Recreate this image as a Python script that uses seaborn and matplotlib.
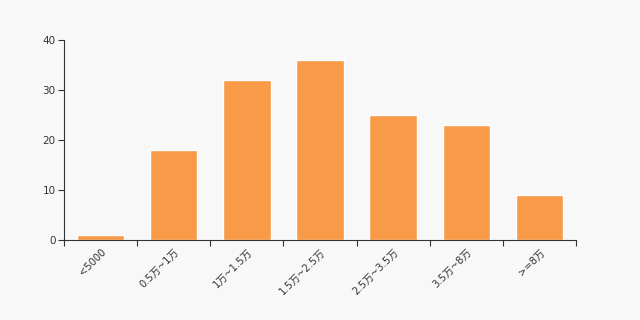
import matplotlib
matplotlib.use("Agg")
import matplotlib.pyplot as plt
import seaborn as sns
import pandas as pd
import numpy as np
from matplotlib.ticker import FixedLocator

categories = ["<5000", "0.5万~1万", "1万~1.5万", "1.5万~2.5万", "2.5万~3.5万", "3.5万~8万", ">=8万"]
values = [1, 18, 32, 36, 25, 23, 9]
yticks = [0, 10, 20, 30, 40]

sns.set_theme(style="ticks")
plt.rcParams['font.family'] = ['DejaVu Sans', 'Noto Sans CJK SC']

bg = "#f8f8f8"
bar_color = "#f89a48"
text_color = "#333333"
axis_color = "#333333"

fig = plt.figure(figsize=(6.4, 3.2), dpi=100, facecolor=bg)
ax = fig.add_axes([0.1, 0.25, 0.8, 0.625])
ax.set_facecolor(bg)

df = pd.DataFrame({"cat": categories, "val": values})
sns.barplot(data=df, x="cat", y="val", color=bar_color, width=0.65, saturation=1, ax=ax)

n = len(categories)
ax.set_xlim(-0.5, n - 0.5)
ax.set_ylim(0, 40)
ax.set_yticks(yticks)
ax.set_yticklabels([str(t) for t in yticks], fontsize=7.5, color=text_color)

# boundary ticks (major) and centered labels (minor)
ax.xaxis.set_major_locator(FixedLocator(np.arange(-0.5, n, 1.0)))
ax.set_xticklabels([])
ax.xaxis.set_minor_locator(FixedLocator(np.arange(n)))
ax.set_xticklabels(categories, minor=True, rotation=45, ha="right",
                   rotation_mode="anchor", fontsize=7.2, color=text_color)
ax.tick_params(axis="x", which="major", bottom=True, length=4, width=0.8, color=axis_color, direction="out")
ax.tick_params(axis="x", which="minor", bottom=True, length=0, pad=5)
ax.tick_params(axis="y", which="major", left=True, length=4, width=0.8, color=axis_color, direction="out", pad=2)

for s in ["top", "right"]:
    ax.spines[s].set_visible(False)
for s in ["left", "bottom"]:
    ax.spines[s].set_color(axis_color)
    ax.spines[s].set_linewidth(0.8)

ax.set_xlabel("")
ax.set_ylabel("")

fig.savefig("out.png", dpi=100, facecolor=bg)
